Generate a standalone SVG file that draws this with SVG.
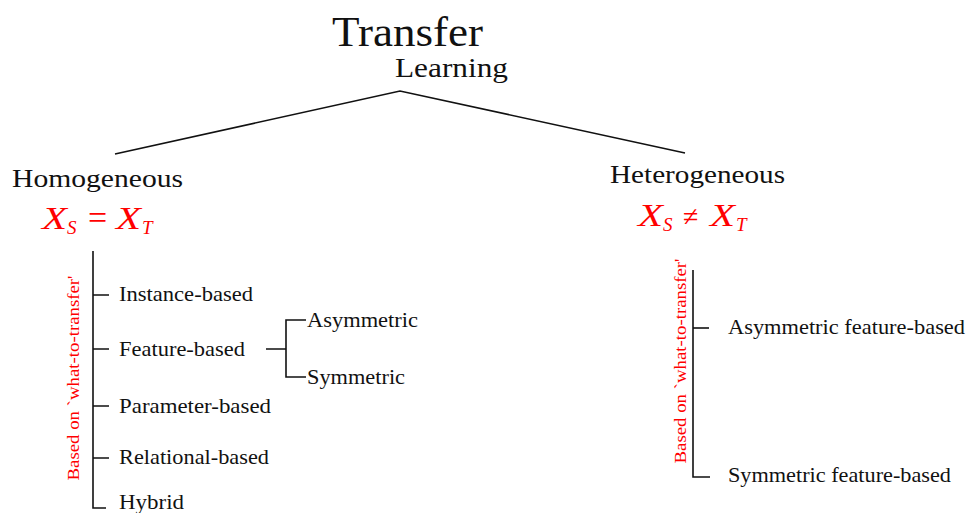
<svg xmlns="http://www.w3.org/2000/svg" width="966" height="513" viewBox="0 0 966 513">
  <style>
    .t { font-family: "Liberation Serif", "DejaVu Serif", serif; fill: #111; }
    .math { font-family: "Liberation Serif", "DejaVu Serif", serif; fill: #ff0000; }
    .mx { font-style: italic; }
    .side { font-family: "Liberation Serif", "DejaVu Serif", serif; fill: #ff0000; font-size: 17px; }
    .item { font-size: 21px; }
    .ln { stroke: #111; stroke-width: 1.6; fill: none; }
  </style>
  <rect width="966" height="513" fill="#ffffff"/>

  <!-- root -->
  <g id="root">
    <text class="t" x="332" y="46" font-size="43" textLength="151" lengthAdjust="spacingAndGlyphs">Transfer</text>
    <text class="t" x="395" y="77" font-size="28" textLength="113" lengthAdjust="spacingAndGlyphs">Learning</text>
  </g>

  <!-- connectors -->
  <g id="connectors">
    <path class="ln" d="M115,154 L400,91 L685,153"/>
    <!-- homogeneous branch -->
    <path class="ln" d="M93,251 V508 H106"/>
    <path class="ln" d="M93,295 H109 M93,349 H109 M93,406 H109 M93,458 H109"/>
    <path class="ln" d="M266,349 H286 M306,320 H286 V377 H306"/>
    <!-- heterogeneous branch -->
    <path class="ln" d="M693,270 V477 H710"/>
    <path class="ln" d="M693,328 H709"/>
  </g>

  <g id="homogeneous">
    <text class="t" x="12" y="187" font-size="26" textLength="171" lengthAdjust="spacingAndGlyphs">Homogeneous</text>
    <!-- X_S = X_T -->
    <text class="math mx" x="42" y="229" font-size="31" textLength="25" lengthAdjust="spacingAndGlyphs">X</text>
    <text class="math mx" x="67" y="234" font-size="19">S</text>
    <text class="math" x="88" y="229" font-size="34">=</text>
    <text class="math mx" x="116" y="229" font-size="31" textLength="25" lengthAdjust="spacingAndGlyphs">X</text>
    <text class="math mx" x="142" y="234" font-size="19">T</text>
    <text class="side" transform="translate(79,378) rotate(-90)" text-anchor="middle" textLength="205" lengthAdjust="spacingAndGlyphs">Based on `what-to-transfer'</text>
  </g>

  <g id="instance-based"><text class="t item" x="119" y="301" textLength="134" lengthAdjust="spacingAndGlyphs">Instance-based</text></g>
  <g id="feature-based"><text class="t item" x="119" y="356" textLength="126" lengthAdjust="spacingAndGlyphs">Feature-based</text></g>
  <g id="asymmetric"><text class="t item" x="307" y="327" textLength="111" lengthAdjust="spacingAndGlyphs">Asymmetric</text></g>
  <g id="symmetric"><text class="t item" x="307" y="384" textLength="98" lengthAdjust="spacingAndGlyphs">Symmetric</text></g>
  <g id="parameter-based"><text class="t item" x="119" y="413" textLength="152" lengthAdjust="spacingAndGlyphs">Parameter-based</text></g>
  <g id="relational-based"><text class="t item" x="119" y="464" textLength="150" lengthAdjust="spacingAndGlyphs">Relational-based</text></g>
  <g id="hybrid"><text class="t item" x="119" y="509" textLength="65" lengthAdjust="spacingAndGlyphs">Hybrid</text></g>

  <g id="heterogeneous">
    <text class="t" x="610" y="183" font-size="26" textLength="175" lengthAdjust="spacingAndGlyphs">Heterogeneous</text>
    <!-- X_S ≠ X_T -->
    <text class="math mx" x="638" y="226" font-size="31" textLength="25" lengthAdjust="spacingAndGlyphs">X</text>
    <text class="math mx" x="663" y="231" font-size="19">S</text>
    <text class="math" x="683" y="226" font-size="28">≠</text>
    <text class="math mx" x="710" y="226" font-size="31" textLength="25" lengthAdjust="spacingAndGlyphs">X</text>
    <text class="math mx" x="736" y="231" font-size="19">T</text>
    <text class="side" transform="translate(686,361) rotate(-90)" text-anchor="middle" textLength="205" lengthAdjust="spacingAndGlyphs">Based on `what-to-transfer'</text>
  </g>

  <g id="asymmetric-feature-based"><text class="t item" x="728" y="334" textLength="237" lengthAdjust="spacingAndGlyphs">Asymmetric feature-based</text></g>
  <g id="symmetric-feature-based"><text class="t item" x="728" y="482" textLength="223" lengthAdjust="spacingAndGlyphs">Symmetric feature-based</text></g>
</svg>
